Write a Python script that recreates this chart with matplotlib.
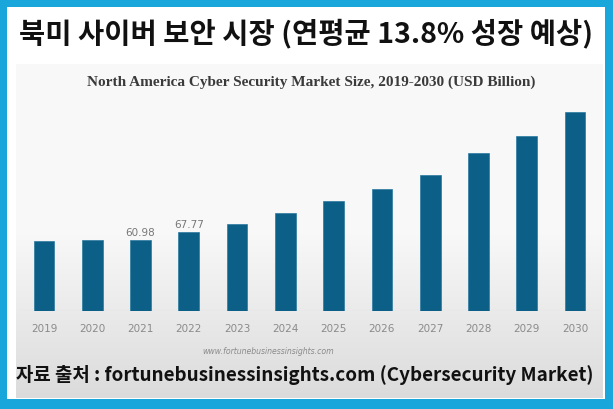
import matplotlib
matplotlib.use("Agg")
import matplotlib.pyplot as plt
import numpy as np
from matplotlib.patches import Rectangle

years = ["2019", "2020", "2021", "2022", "2023", "2024", "2025", "2026", "2027", "2028", "2029", "2030"]
values = [60.5, 60.7, 60.98, 67.77, 75.0, 84.5, 94.3, 104.6, 117.3, 136.0, 150.6, 171.3]
labeled = {"2021": "60.98", "2022": "67.77"}

title = "북미 사이버 보안 시장 (연평균 13.8% 성장 예상)"
chart_title = "North America Cyber Security Market Size, 2019-2030 (USD Billion)"
watermark = "www.fortunebusinessinsights.com"
footer = "자료 출처 : fortunebusinessinsights.com (Cybersecurity Market)"

W, H = 613, 410
fig = plt.figure(figsize=(W / 100, H / 100), dpi=100)
fig.patch.set_facecolor("#19a6da")

def fx(x):
    return x / W

def fy(y):
    return 1 - y / H

# background layer
bg = fig.add_axes([0, 0, 1, 1])
bg.set_xlim(0, W)
bg.set_ylim(H, 0)
bg.axis("off")
bg.add_patch(Rectangle((7, 8), 598, 392, facecolor="white", edgecolor="none"))
# gradient panel
grad = np.linspace(0, 1, 256).reshape(-1, 1)
top_c = np.array([0.975, 0.975, 0.975])
bot_c = np.array([0.86, 0.86, 0.86])
t = np.clip((grad - 0.5) / 0.5, 0, 1)
img = (top_c + (bot_c - top_c) * t).reshape(256, 1, 3)
bg.imshow(img, extent=(16, 603, 399, 65), aspect="auto", interpolation="bilinear", zorder=1)

# texts
fig.text(fx(306), fy(33), title, ha="center", va="center", fontsize=20.5,
         fontweight="bold", family=["Noto Sans CJK KR", "DejaVu Sans"], color="#111111")
fig.text(fx(311), fy(82), chart_title, ha="center", va="center", fontsize=11,
         fontweight="bold", family="Liberation Serif", color="#3a3a3a")
fig.text(fx(268), fy(352), watermark, ha="center", va="center", fontsize=5.6,
         style="italic", family="DejaVu Sans", color="#8a8a8a")
fig.text(fx(305), fy(375), footer, ha="center", va="center", fontsize=13.6,
         fontweight="bold", family=["Noto Sans CJK KR", "DejaVu Sans"], color="#111111")

# main axes
left_px, right_px = 19.9, 599.1
base_px, top_px = 312, 100
ax = fig.add_axes([fx(left_px), fy(base_px), (right_px - left_px) / W, (base_px - top_px) / H])
ax.patch.set_alpha(0)
x = np.arange(len(years))
ax.bar(x, values, width=0.43, color="#0c5f87", edgecolor="#2a7aa0", linewidth=0.5, zorder=3)
ax.set_xlim(-0.5, len(years) - 0.5)
ax.set_ylim(0, (base_px - top_px) / 1.162)
ax.set_xticks(x)
ax.set_xticklabels(years, fontsize=7.5, color="#8a8a8a", family="DejaVu Sans")
ax.tick_params(axis="x", length=0, pad=9)
ax.set_yticks([])
for s in ax.spines.values():
    s.set_visible(False)
ax.axhline(0, color="#d0d0d0", linewidth=0.8, zorder=2)
for i, (yr, v) in enumerate(zip(years, values)):
    if yr in labeled:
        ax.text(i, v + 3, labeled[yr], ha="center", va="bottom", fontsize=7.5,
                color="#777777", family="DejaVu Sans")

fig.savefig("out.png", dpi=100, facecolor=fig.get_facecolor())
